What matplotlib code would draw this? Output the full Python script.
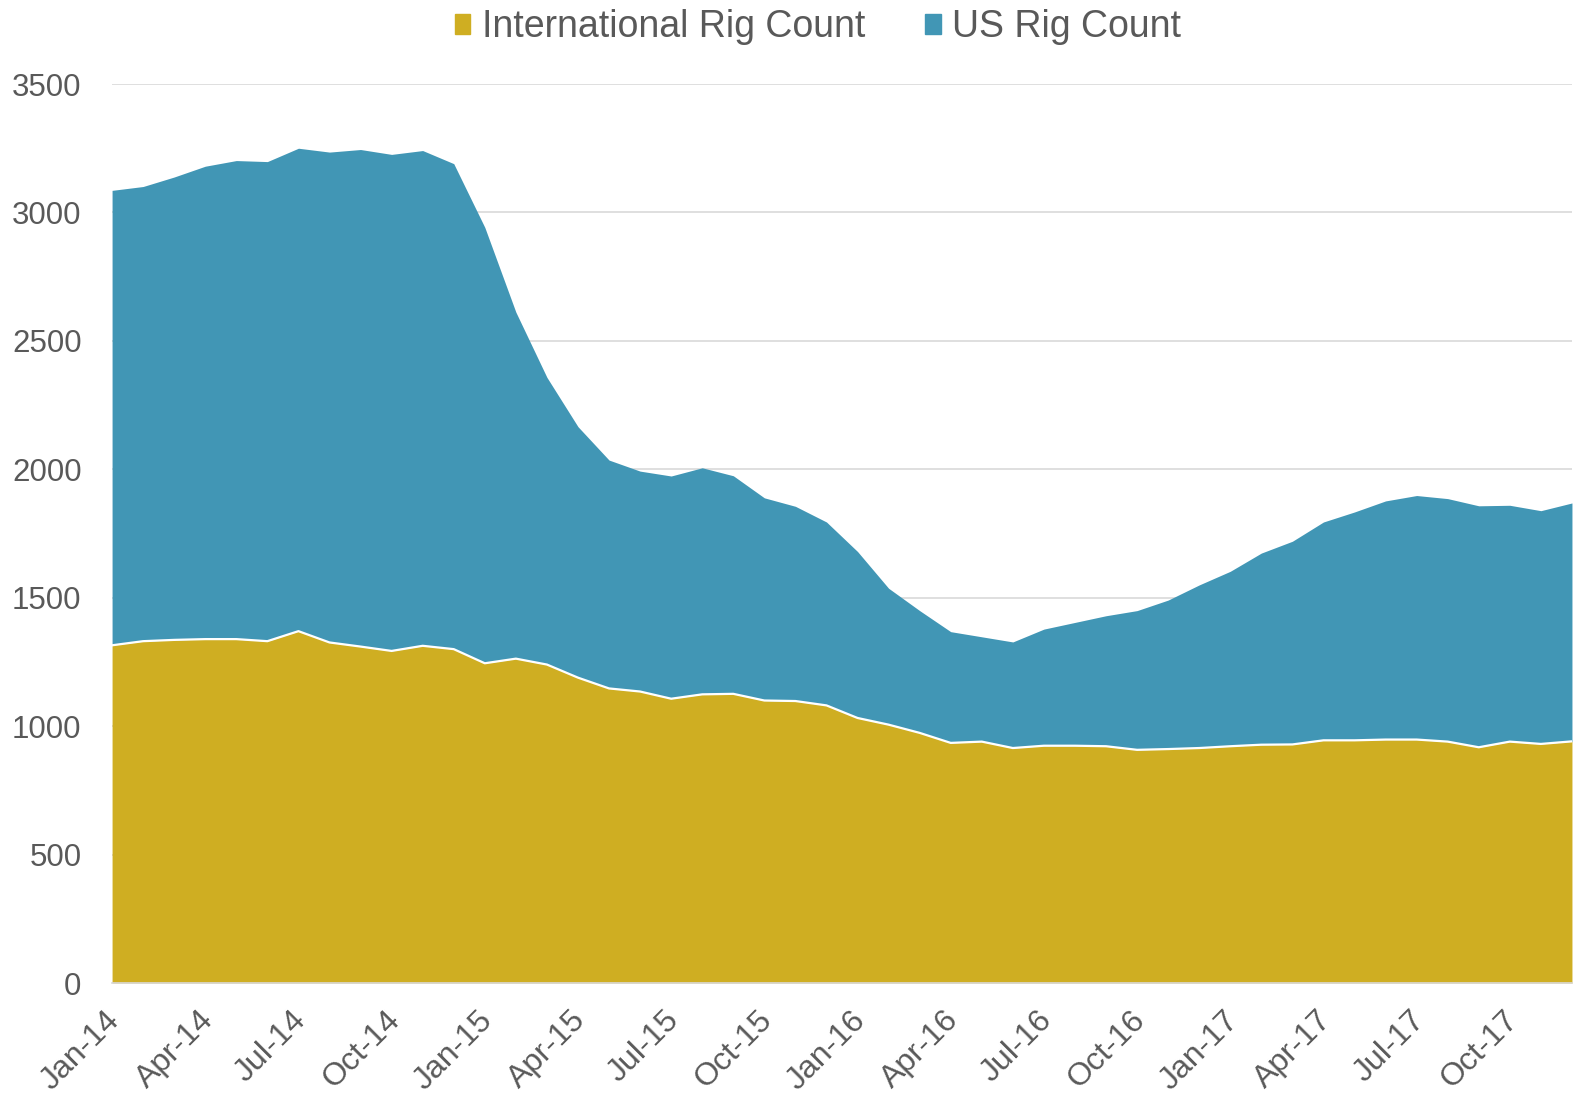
"""
Stacked area chart of international and US rig counts, Jan-14 to Dec-17.
"""
# Library import
import numpy as np
import matplotlib.pyplot as plt
import matplotlib.transforms as mtransforms
from matplotlib.patches import Patch

plt.rcParams["font.family"] = ["Liberation Sans", "DejaVu Sans"]

# Data (monthly, Jan-14 .. Dec-17)
months = [f"{m}-{y}" for y in ("14", "15", "16", "17")
          for m in ("Jan", "Feb", "Mar", "Apr", "May", "Jun",
                    "Jul", "Aug", "Sep", "Oct", "Nov", "Dec")]
intl_rigs = [1315, 1331, 1336, 1339, 1339, 1331, 1370, 1326, 1310, 1293, 1313, 1300,
             1245, 1263, 1240, 1189, 1147, 1135, 1107, 1124, 1126, 1100, 1098, 1081,
             1032, 1006, 974, 935, 940, 915, 924, 924, 922, 908, 911, 915,
             922, 928, 929, 945, 945, 948, 948, 940, 918, 940, 931, 941]
us_rigs = [1771, 1770, 1802, 1841, 1863, 1867, 1880, 1909, 1935, 1933, 1928, 1890,
           1697, 1349, 1118, 977, 889, 858, 867, 882, 849, 789, 758, 714,
           648, 531, 476, 433, 408, 413, 454, 480, 508, 542, 580, 635,
           681, 746, 791, 850, 889, 929, 950, 946, 940, 920, 908, 928]

# Colours
col_intl = "#CFAE22"
col_us = "#4196B5"
col_text = "#595959"

x = np.arange(len(months))
intl = np.array(intl_rigs)
total = intl + np.array(us_rigs)

fig = plt.figure(figsize=(15.74, 10.94), dpi=100)
ax = fig.add_axes([0.0712, 0.1014, 0.9275, 0.8218])

# Stacked areas
ax.fill_between(x, 0, intl, color=col_intl, linewidth=0, zorder=2)
ax.fill_between(x, intl, total, color=col_us, linewidth=0, zorder=2)
ax.plot(x, intl, color="white", linewidth=1.6, zorder=3)

# Axes styling
ax.set_xlim(0, len(months) - 1)
ax.set_ylim(0, 3500)
ax.set_yticks(np.arange(0, 3501, 500))
ax.grid(axis="y", color="#D9D9D9", linewidth=1.2, zorder=0)
ax.set_axisbelow(True)
for s in ("top", "right", "left"):
    ax.spines[s].set_visible(False)
ax.spines["bottom"].set_color("#D9D9D9")
ax.spines["bottom"].set_linewidth(1.2)

ax.set_xticks(x[::3])
ax.set_xticklabels(months[::3], rotation=45, ha="right", rotation_mode="anchor")
ax.tick_params(axis="both", length=0, colors=col_text)
ax.tick_params(axis="y", labelsize=22.5, pad=22)
ax.tick_params(axis="x", labelsize=23, pad=16)
shift = mtransforms.ScaledTranslation(-7 / 100, 0, fig.dpi_scale_trans)
for lbl in ax.get_xticklabels():
    lbl.set_transform(lbl.get_transform() + shift)

# Legend
handles = [Patch(color=col_intl, label="International Rig Count"),
           Patch(color=col_us, label="US Rig Count")]
fig.legend(handles=handles, loc="center", bbox_to_anchor=(0.5195, 0.975),
           ncol=2, frameon=False, fontsize=27, handlelength=0.42, handleheight=0.42,
           handletextpad=0.3, columnspacing=1.6, labelcolor=col_text)

fig.savefig("out.png", dpi=100)
